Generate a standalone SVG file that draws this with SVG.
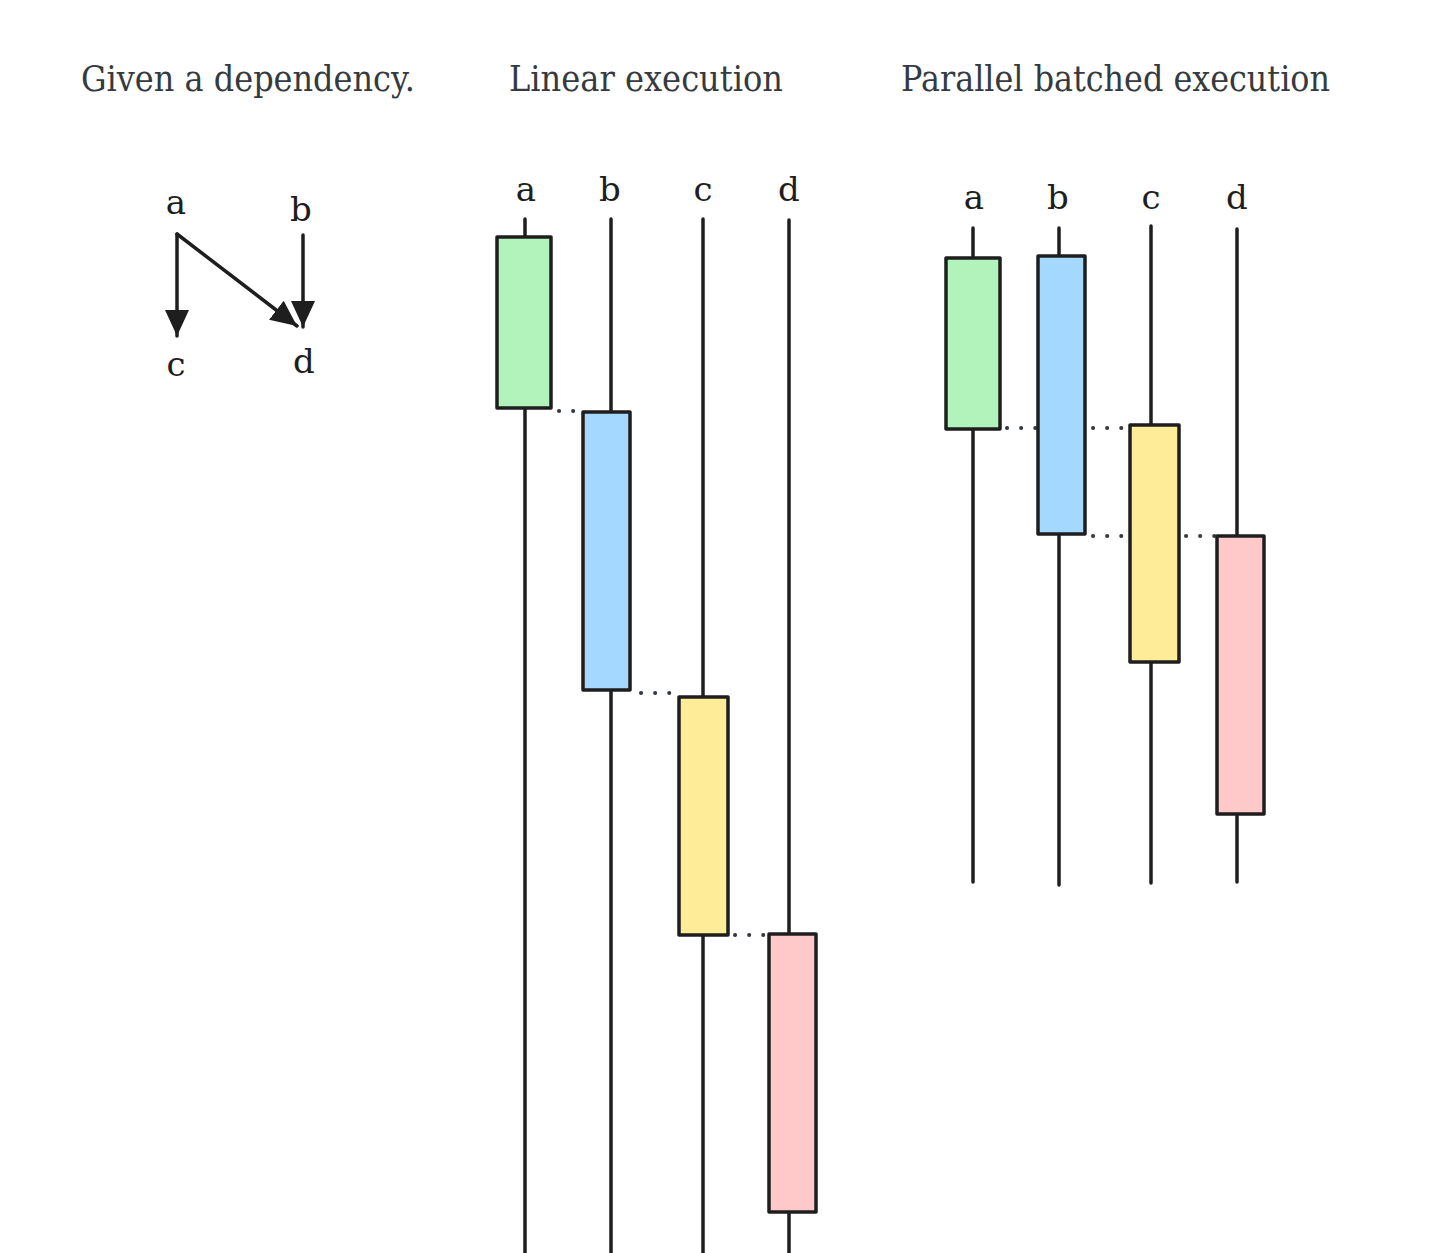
<svg xmlns="http://www.w3.org/2000/svg" width="1432" height="1253" viewBox="0 0 1432 1253">
<style>
.t{font-family:"DejaVu Serif","Liberation Serif",serif;fill:#343a40;font-size:35px}
.l{font-family:"DejaVu Serif","Liberation Serif",serif;fill:#1e1e1e;font-size:34px;text-anchor:middle}
.ln{stroke:#1e1e1e;stroke-width:3.5;fill:none;stroke-linecap:round}
.bx{stroke:#1e1e1e;stroke-width:3.5;stroke-linejoin:round}
.dt{stroke:#343a40;stroke-width:4;stroke-dasharray:0.1 14;stroke-linecap:round;fill:none}
</style>
<defs>
<marker id="ah" markerUnits="userSpaceOnUse" markerWidth="30" markerHeight="30" viewBox="0 0 30 30" refX="26" refY="15" orient="auto">
<path d="M0,3 L26,15 L0,27 Z" fill="#1e1e1e"/>
</marker>
</defs>
<rect width="1432" height="1253" fill="#fff"/>
<g id="titles">
<text class="t" x="81" y="91" textLength="334" lengthAdjust="spacingAndGlyphs">Given a dependency.</text>
<text class="t" x="509" y="91" textLength="274" lengthAdjust="spacingAndGlyphs">Linear execution</text>
<text class="t" x="901" y="91" textLength="429" lengthAdjust="spacingAndGlyphs">Parallel batched execution</text>
</g>
<g id="dep-graph">
<g id="dep-a"><text class="l" x="176" y="214">a</text></g>
<g id="dep-b"><text class="l" x="301" y="221">b</text></g>
<g id="dep-c"><text class="l" x="176" y="376">c</text></g>
<g id="dep-d"><text class="l" x="304" y="373">d</text></g>
<g id="dep-edges">
<line class="ln" x1="177" y1="234" x2="177" y2="336" marker-end="url(#ah)"/>
<line class="ln" x1="177" y1="234" x2="297" y2="326" marker-end="url(#ah)"/>
<line class="ln" x1="303" y1="235" x2="303" y2="327" marker-end="url(#ah)"/>
</g>
</g>
<g id="linear">
<g id="lin-labels">
<text class="l" x="526" y="201">a</text>
<text class="l" x="610" y="201">b</text>
<text class="l" x="703" y="201">c</text>
<text class="l" x="789" y="201">d</text>
</g>
<g id="lin-lifelines">
<line class="ln" x1="525" y1="219" x2="525" y2="1253"/>
<line class="ln" x1="611" y1="219" x2="611" y2="1253"/>
<line class="ln" x1="703" y1="219" x2="703" y2="1253"/>
<line class="ln" x1="789" y1="220" x2="789" y2="1253"/>
</g>
<g id="lin-connectors">
<line class="dt" x1="559" y1="411" x2="583" y2="411"/>
<line class="dt" x1="641" y1="693" x2="679" y2="693"/>
<line class="dt" x1="735" y1="935" x2="769" y2="935"/>
</g>
<g id="lin-a"><rect class="bx" x="497" y="237" width="54" height="171" fill="#b2f2bb"/></g>
<g id="lin-b"><rect class="bx" x="583" y="412" width="47" height="278" fill="#a5d8ff"/></g>
<g id="lin-c"><rect class="bx" x="679" y="697" width="49" height="238" fill="#ffec99"/></g>
<g id="lin-d"><rect class="bx" x="769" y="934" width="47" height="278" fill="#ffc9c9"/></g>
</g>
<g id="parallel">
<g id="par-labels">
<text class="l" x="974" y="209">a</text>
<text class="l" x="1058" y="209">b</text>
<text class="l" x="1151" y="209">c</text>
<text class="l" x="1237" y="209">d</text>
</g>
<g id="par-lifelines">
<line class="ln" x1="973" y1="228" x2="973" y2="882"/>
<line class="ln" x1="1059" y1="228" x2="1059" y2="885"/>
<line class="ln" x1="1151" y1="226" x2="1151" y2="883"/>
<line class="ln" x1="1237" y1="229" x2="1237" y2="882"/>
</g>
<g id="par-connectors">
<line class="dt" x1="1007" y1="428" x2="1038" y2="428"/>
<line class="dt" x1="1093" y1="428" x2="1130" y2="428"/>
<line class="dt" x1="1093" y1="536" x2="1130" y2="536"/>
<line class="dt" x1="1186" y1="536" x2="1217" y2="536"/>
</g>
<g id="par-a"><rect class="bx" x="946" y="258" width="54" height="171" fill="#b2f2bb"/></g>
<g id="par-b"><rect class="bx" x="1038" y="256" width="47" height="278" fill="#a5d8ff"/></g>
<g id="par-c"><rect class="bx" x="1130" y="425" width="49" height="237" fill="#ffec99"/></g>
<g id="par-d"><rect class="bx" x="1217" y="536" width="47" height="278" fill="#ffc9c9"/></g>
</g>
</svg>
